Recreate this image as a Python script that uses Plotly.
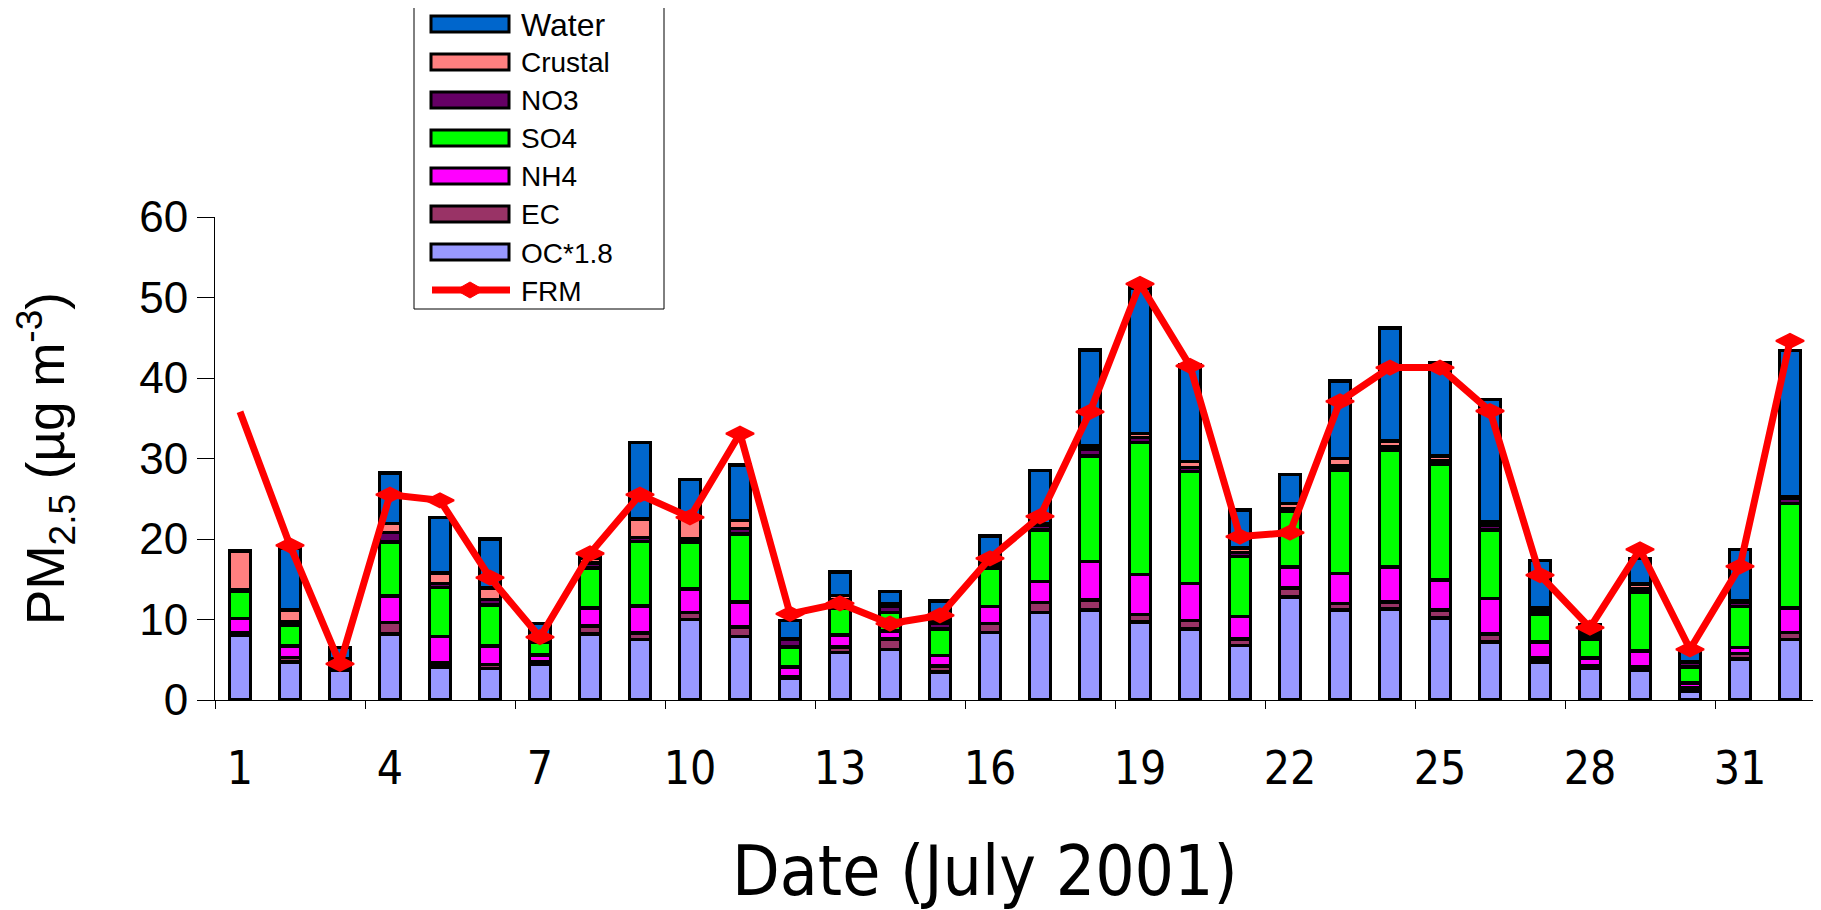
import plotly.graph_objects as go

# ---- data ----
days = list(range(1, 33))
oc = [8.0, 4.7, 3.7, 8.2, 4.1, 3.9, 4.4, 8.2, 7.5, 10.0, 7.9, 2.7, 5.9, 6.3, 3.5, 8.4,
      10.9, 11.2, 9.7, 8.8, 6.8, 12.8, 11.2, 11.3, 10.2, 7.2, 4.7, 3.9, 3.7, 1.1, 5.1, 7.5]
ec = [0.4, 0.6, 0.2, 1.4, 0.5, 0.5, 0.4, 1.0, 0.8, 0.9, 1.2, 0.2, 0.7, 1.3, 0.7, 1.1,
      1.2, 1.2, 0.9, 1.1, 0.8, 1.1, 0.8, 0.9, 1.0, 1.0, 0.5, 0.4, 0.4, 0.4, 0.7, 0.9]
nh4 = [1.7, 1.4, 0.2, 3.3, 3.3, 2.3, 0.8, 2.2, 3.4, 2.9, 3.1, 1.2, 1.5, 1.0, 1.3, 2.1,
       2.6, 4.8, 5.0, 4.6, 2.8, 2.6, 3.7, 4.3, 3.7, 4.4, 2.0, 0.9, 2.0, 0.6, 0.7, 3.0]
so4 = [3.4, 2.6, 0.3, 6.7, 6.1, 5.1, 1.6, 5.0, 8.0, 5.8, 8.4, 2.5, 3.3, 2.3, 3.3, 4.8,
       6.4, 13.1, 16.4, 13.9, 7.4, 6.9, 12.9, 14.5, 14.4, 8.5, 3.5, 2.4, 7.3, 2.0, 5.1, 13.0]
no3 = [0.2, 0.4, 0.2, 1.2, 0.5, 0.7, 0.4, 0.6, 0.5, 0.4, 0.7, 1.0, 1.0, 0.8, 0.7, 0.4,
       0.6, 0.9, 0.6, 0.5, 0.5, 0.4, 0.5, 0.4, 0.4, 0.6, 0.5, 0.4, 0.4, 0.6, 0.6, 0.7]
crustal = [4.8, 1.5, 0.5, 1.1, 1.3, 1.4, 0.3, 0.6, 2.3, 2.5, 1.0, 0.0, 0.6, 0.2, 0.4, 0.2,
           0.2, 0.4, 0.5, 0.7, 0.6, 0.6, 0.9, 0.8, 0.6, 0.4, 0.3, 0.3, 0.6, 0.0, 0.1, 0.2]
water = [0.0, 7.6, 1.4, 6.3, 6.9, 6.1, 1.6, 0.6, 9.5, 4.9, 6.9, 2.3, 2.9, 1.6, 2.4, 3.4,
         6.6, 11.9, 18.1, 12.1, 4.7, 3.6, 9.6, 14.0, 11.6, 15.2, 5.8, 1.1, 3.2, 1.4, 6.4, 18.1]
frm = [35.8, 19.2, 4.5, 25.5, 24.8, 15.2, 7.8, 18.2, 25.5, 22.7, 33.1, 10.7, 12.0, 9.5, 10.5, 17.6,
       22.8, 35.8, 51.7, 41.5, 20.3, 20.8, 37.1, 41.3, 41.3, 35.9, 15.5, 9.0, 18.7, 6.3, 16.6, 44.6]

tick_days = days[::3]
y_ticks = [0, 10, 20, 30, 40, 50, 60]

series_names = ["OC*1.8", "EC", "NH4", "SO4", "NO3", "Crustal", "Water"]
series_values = [oc, ec, nh4, so4, no3, crustal, water]
series_colors = ["#9999FF", "#993366", "#FF00FF", "#00FF00", "#660066", "#FF8080", "#0066CC"]

# ---- geometry: page pixels (the page body adds an 8px margin) ----
OFF = 8
W, H = 1821 - OFF, 910 - OFF
PL, PR, PT, PB = 215, 1815, 217, 700          # plot area in page pixels
L, R, T, B = PL - OFF, W - (PR - OFF), PT - OFF, H - (PB - OFF)
PW, PH = PR - PL, PB - PT


def px(x):
    return (x - PL) / PW


def py(y):
    return (PB - y) / PH


fig = go.Figure()
for name, vals, color in zip(series_names, series_values, series_colors):
    fig.add_trace(go.Bar(
        x=days, y=vals, name=name, width=0.42,
        marker=dict(color=color, line=dict(color="black", width=3.5)),
        showlegend=False,
    ))

fig.add_trace(go.Scatter(
    x=days, y=frm, name="FRM", mode="lines+markers",
    line=dict(color="#FF0000", width=7),
    marker=dict(symbol="diamond-wide", size=[0] + [20] * (len(days) - 1), color="#FF0000",
                opacity=1, line=dict(color="#FF0000", width=2)),
    showlegend=False,
))

cond = "DejaVu Sans Condensed, Liberation Sans Narrow, DejaVu Sans"
arial = "Liberation Sans, Arial"
fig.update_layout(
    barmode="stack",
    width=W, height=H,
    margin=dict(l=L, r=R, t=T, b=B),
    plot_bgcolor="white", paper_bgcolor="white",
    font=dict(family=arial, color="black"),
)
fig.update_xaxes(
    range=[0.5, 32.5], tickmode="array", tickvals=tick_days,
    ticktext=[str(d) for d in tick_days], ticks="",
    showline=True, linecolor="black", linewidth=1,
    showgrid=False, zeroline=False,
    tickfont=dict(family=cond, size=46, color="black"),
    ticklabelstandoff=28,
    minor=dict(tickvals=[0.5 + 3 * i for i in range(11)], ticks="outside",
               ticklen=8, tickcolor="black", tickwidth=1, showgrid=False),
)
fig.update_yaxes(
    range=[0, 60], tickmode="array", tickvals=y_ticks,
    ticks="outside", ticklen=17, tickcolor="black", tickwidth=1,
    showline=True, linecolor="black", linewidth=1,
    showgrid=False, zeroline=False,
    tickfont=dict(family=arial, size=44, color="black"),
    ticklabelstandoff=0,
    title=dict(text="PM<sub>2.5</sub> (µg m<sup>-3</sup>)",
               font=dict(family=arial, size=53, color="black"),
               standoff=64),
)

annotations = [dict(xref="paper", yref="paper", x=px(985), y=py(871),
                    xanchor="center", yanchor="middle", showarrow=False,
                    text="Date (July 2001)",
                    font=dict(family=cond, size=69, color="black"))]

# ---- legend drawn as box, swatches and text ----
shapes = [dict(type="rect", xref="paper", yref="paper",
               x0=px(414), x1=px(664), y0=py(309), y1=py(4),
               line=dict(color="black", width=1), fillcolor="white", layer="above")]
row0, step = 24, 38
leg_items = list(zip(series_names, series_colors))[::-1]
for i, (name, color) in enumerate(leg_items):
    c = row0 + i * step
    shapes.append(dict(type="rect", xref="paper", yref="paper",
                       x0=px(431), x1=px(509), y0=py(c + 8), y1=py(c - 8),
                       fillcolor=color, line=dict(color="black", width=3), layer="above"))
    big = name == "Water"
    annotations.append(dict(xref="paper", yref="paper", x=px(519), y=py(c + 1),
                            xanchor="left", yanchor="middle", showarrow=False, text=name,
                            height=32 if big else None,
                            font=dict(family=arial, size=32 if big else 28, color="black")))
c = row0 + len(leg_items) * step
shapes.append(dict(type="line", xref="paper", yref="paper",
                   x0=px(432), x1=px(510), y0=py(c), y1=py(c),
                   line=dict(color="#FF0000", width=7), layer="above"))
dx, dy = 14, 8
shapes.append(dict(type="path", xref="paper", yref="paper",
                   path=(f"M {px(470 - dx)},{py(c)} L {px(470)},{py(c - dy)} "
                         f"L {px(470 + dx)},{py(c)} L {px(470)},{py(c + dy)} Z"),
                   fillcolor="#FF0000", line=dict(color="#FF0000", width=1), layer="above"))
annotations.append(dict(xref="paper", yref="paper", x=px(519), y=py(c + 1),
                        xanchor="left", yanchor="middle", showarrow=False, text="FRM",
                        font=dict(family=arial, size=28, color="black")))

fig.update_layout(shapes=shapes, annotations=annotations)
fig.write_html("out.html")
